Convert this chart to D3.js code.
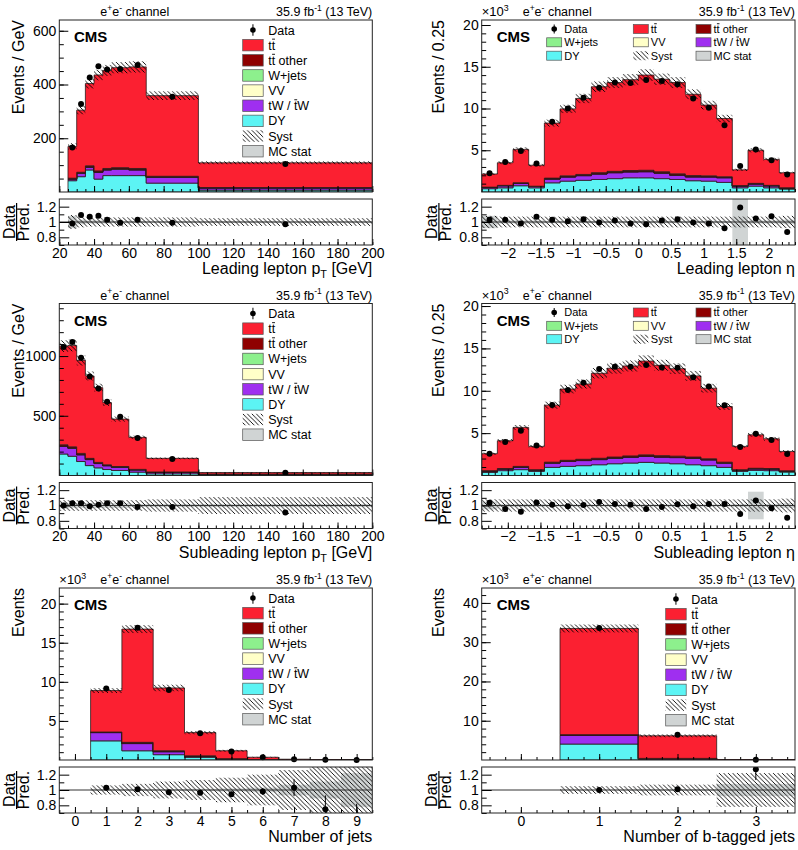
<!DOCTYPE html>
<html><head><meta charset="utf-8">
<script src="https://cdn.jsdelivr.net/npm/d3@7"></script>
<style>
body{margin:0;background:#fff}
svg{display:block}
text{font-family:"Liberation Sans",Arial,Helvetica,sans-serif}
</style>
</head><body>
<svg id="c" width="798" height="850"></svg>
<script>
// ---------------- DATA ----------------
// Leading lepton pT (events / GeV)
const ptLeadEdges   = [25,30,35,40,45,50,60,70,100,200];
const ptLeadDY      = [42,57,82,48,61,61,61,33,7];
const ptLeadTW      = [6,12,10,25,21,24,21,21,8];
const ptLeadVV      = [1,1,1,1,1,1,1,1,0.5];
const ptLeadWJ      = [0.5,0.5,0.5,0.5,0.5,0.5,0.5,0.5,0.2];
const ptLeadTTOther = [2,3,4,4,4,4,4,3,1];
const ptLeadTT      = [118,231,306,357,365,372,378,300,92];
const ptLeadData    = [166,327,426,468,456,458,473,354,104];
const ptLeadRatio   = [0.98,1.09,1.07,1.08,1.03,0.99,1.03,0.99,0.97];
const ptLeadRatioErr= [0.02,0.015,0.012,0.012,0.012,0.01,0.01,0.008,0.01];
const ptLeadSystMain= [0.07,0.05,0.045,0.045,0.045,0.045,0.045,0.045,0.05];
const ptLeadSyst    = [0.09,0.07,0.06,0.06,0.06,0.06,0.06,0.06,0.05];
const ptLeadMCStat  = [0.08,0.03,0.02,0.02,0.02,0.015,0.015,0.01,0.01];
const ptLeadYTicks  = [200,400,600];
const ptXTicks      = [20,40,60,80,100,120,140,160,180,200];

// Leading lepton eta (x10^3 events / 0.25)
const etaEdges      = [-2.4,-2.16,-1.92,-1.68,-1.44,-1.2,-0.96,-0.72,-0.48,-0.24,0,0.24,0.48,0.72,0.96,1.2,1.44,1.68,1.92,2.16,2.4];
const etaLeadDY     = [0.4,0.5,0.75,0.5,1.1,1.3,1.4,1.5,1.6,1.7,1.7,1.6,1.5,1.35,1.3,1.15,0.5,0.7,0.5,0.35];
const etaLeadTW     = [0.15,0.25,0.28,0.15,0.45,0.5,0.55,0.65,0.7,0.7,0.72,0.65,0.5,0.45,0.5,0.55,0.22,0.26,0.24,0.12];
const etaLeadVV     = [0.01,0.01,0.02,0.01,0.03,0.03,0.04,0.04,0.04,0.04,0.04,0.04,0.04,0.04,0.03,0.03,0.01,0.02,0.01,0.01];
const etaLeadWJ     = [0.005,0.005,0.005,0.005,0.005,0.005,0.005,0.005,0.005,0.005,0.005,0.005,0.005,0.005,0.005,0.005,0.005,0.005,0.005,0.005];
const etaLeadTTOther= [0.02,0.03,0.05,0.03,0.08,0.1,0.11,0.12,0.13,0.13,0.14,0.13,0.13,0.12,0.1,0.09,0.03,0.05,0.04,0.02];
const etaLeadTT     = [1.57,2.71,4.0,2.51,6.59,8.02,9.1,10.29,10.63,10.88,11.4,11.08,10.93,9.74,8.47,6.98,1.89,3.97,3.11,1.8];
const etaLeadData   = [2.24,3.6,4.9,3.4,8.4,10.0,11.3,12.5,13.1,13.05,13.4,13.3,12.9,11.2,10.1,8.0,3.1,5.1,3.8,2.1];
const etaLeadRatio  = [1.03,1.03,0.98,1.07,1.03,1.01,1.035,0.995,1.02,0.98,0.97,1.02,1.035,0.995,0.98,0.92,1.19,1.045,1.075,0.87];
const etaLeadRatioErr=[0.02,0.017,0.015,0.018,0.011,0.01,0.01,0.009,0.009,0.009,0.009,0.009,0.009,0.009,0.01,0.011,0.02,0.015,0.017,0.021];
const etaLeadSystMain=[0.05,0.05,0.05,0.05,0.05,0.05,0.05,0.05,0.05,0.05,0.05,0.05,0.05,0.05,0.05,0.05,0.05,0.05,0.05,0.05];
const etaLeadSyst   = [0.08,0.07,0.07,0.07,0.07,0.07,0.07,0.07,0.07,0.07,0.07,0.07,0.07,0.07,0.07,0.07,0.07,0.07,0.07,0.08];
const etaLeadMCStat = [0.08,0.02,0.02,0.02,0.015,0.015,0.015,0.015,0.015,0.015,0.015,0.015,0.015,0.015,0.015,0.015,0.4,0.02,0.02,0.03];
const etaYTicks     = [5,10,15,20];
const etaXTicks     = [-2,-1.5,-1,-0.5,0,0.5,1,1.5,2];

// Subleading lepton pT (events / GeV)
const ptSubEdges    = [20,25,30,35,40,45,50,60,70,100,200];
const ptSubDY       = [180,161,117,83,64,50,42,28,14,5];
const ptSubTW       = [64,66,56,50,36,32,27,19,13,6];
const ptSubVV       = [2,2,2,2,2,1,1,1,0.5,0.2];
const ptSubWJ       = [1,1,1,0.5,0.5,0.5,0.3,0.2,0.1,0];
const ptSubTTOther  = [10,10,9,8,7,6,5,3,2,1];
const ptSubTT       = [826,849,779,690,626,521,397,268,114,13];
const ptSubData     = [1075,1117,986,828,728,617,492,314,139,23];
const ptSubRatio    = [1.0,1.03,1.03,0.99,1.01,1.03,1.03,0.98,0.98,0.91];
const ptSubRatioErr = [0.01,0.01,0.01,0.01,0.01,0.01,0.01,0.01,0.01,0.015];
const ptSubSystMain = [0.045,0.045,0.045,0.045,0.045,0.045,0.045,0.045,0.05,0.08];
const ptSubSyst     = [0.07,0.07,0.07,0.07,0.07,0.07,0.07,0.07,0.08,0.11];
const ptSubMCStat   = [0.04,0.03,0.03,0.03,0.03,0.03,0.03,0.02,0.02,0.02];
const ptSubYTicks   = [500,1000];

// Subleading lepton eta (x10^3 events / 0.25)
const etaSubDY      = [0.37,0.57,0.69,0.49,0.96,1.08,1.16,1.27,1.39,1.47,1.55,1.47,1.39,1.27,1.16,0.96,0.49,0.6,0.57,0.41];
const etaSubTW      = [0.15,0.2,0.3,0.15,0.5,0.58,0.6,0.6,0.62,0.67,0.7,0.7,0.72,0.75,0.68,0.5,0.14,0.18,0.2,0.1];
const etaSubVV      = [0.01,0.01,0.02,0.01,0.03,0.03,0.04,0.04,0.04,0.04,0.04,0.04,0.04,0.04,0.03,0.03,0.01,0.02,0.01,0.01];
const etaSubWJ      = [0.005,0.005,0.005,0.005,0.005,0.005,0.005,0.005,0.005,0.005,0.005,0.005,0.005,0.005,0.005,0.005,0.005,0.005,0.005,0.005];
const etaSubTTOther = [0.03,0.04,0.06,0.03,0.08,0.1,0.11,0.12,0.13,0.13,0.14,0.13,0.13,0.12,0.1,0.08,0.03,0.05,0.04,0.03];
const etaSubTT      = [2.01,3.28,4.6,2.75,6.73,8.41,8.89,10.03,10.47,10.61,11.07,10.66,10.32,9.57,8.33,6.57,2.76,3.95,3.51,2.29];
const etaSubData    = [2.57,3.94,5.27,3.55,8.33,10.1,10.96,12.57,12.84,12.84,13.04,12.76,12.73,11.6,10.5,8.3,3.35,4.92,4.2,2.53];
const etaSubRatio   = [1.035,0.955,0.92,1.04,1.01,0.99,1.005,1.045,1.02,1.01,0.955,0.98,1.015,0.99,1.02,1.02,0.89,1.065,0.965,0.84];
const etaSubRatioErr= [0.02,0.016,0.014,0.017,0.011,0.01,0.01,0.009,0.009,0.009,0.009,0.009,0.009,0.009,0.01,0.011,0.017,0.015,0.016,0.019];
const etaSubSystMain= [0.05,0.05,0.05,0.05,0.05,0.05,0.05,0.05,0.05,0.05,0.05,0.05,0.05,0.05,0.05,0.05,0.05,0.05,0.05,0.05];
const etaSubSyst    = [0.08,0.08,0.08,0.08,0.08,0.08,0.08,0.08,0.08,0.08,0.08,0.08,0.08,0.08,0.08,0.08,0.08,0.08,0.08,0.09];
const etaSubMCStat  = [0.05,0.02,0.02,0.02,0.015,0.015,0.015,0.015,0.015,0.015,0.015,0.015,0.015,0.015,0.015,0.015,0.02,0.18,0.02,0.03];

// Number of jets (x10^3 events)
const nJetsEdges    = [-0.5,0.5,1.5,2.5,3.5,4.5,5.5,6.5,7.5,8.5,9.5];
const nJetsDY       = [0,2.45,1.18,0.68,0.34,0.1,0.03,0.01,0.003,0.001];
const nJetsTW       = [0,1.05,0.92,0.38,0.12,0.04,0.012,0.004,0.001,0];
const nJetsVV       = [0,0.03,0.03,0.02,0.01,0.003,0.001,0,0,0];
const nJetsWJ       = [0,0.01,0.01,0.005,0.002,0.001,0,0,0,0];
const nJetsTTOther  = [0,0.04,0.12,0.1,0.06,0.03,0.01,0.004,0.001,0];
const nJetsTT       = [0,5.3,14.48,8.03,2.97,1.01,0.3,0.082,0.025,0.009];
const nJetsData     = [null,9.13,16.9,8.96,3.42,1.1,0.34,0.1,0.022,0.006];
const nJetsRatio    = [null,1.03,1.01,0.97,0.965,0.945,0.98,1.03,0.75,0.55];
const nJetsRatioErr = [0,0.01,0.008,0.01,0.017,0.03,0.045,0.11,0.18,0.27];
const nJetsSystMain = [0,0.035,0.03,0.045,0.06,0.1,0.15,0.2,0.3,0.35];
const nJetsSyst     = [0,0.06,0.08,0.11,0.13,0.16,0.2,0.26,0.35,0.4];
const nJetsMCStat   = [0,0.01,0.01,0.01,0.015,0.02,0.03,0.07,0.11,0.22];
const nJetsYTicks   = [5,10,15,20];
const nJetsXTicks   = [0,1,2,3,4,5,6,7,8,9];

// Number of b-tagged jets (x10^3 events)
const nBEdges       = [-0.5,0.5,1.5,2.5,3.5];
const nBDY          = [0,4.06,0.05,0];
const nBTW          = [0,2.21,0.25,0.003];
const nBVV          = [0,0.03,0.01,0];
const nBWJ          = [0,0.01,0,0];
const nBTTOther     = [0,0.15,0.1,0.002];
const nBTT          = [0,27.04,5.76,0.045];
const nBData        = [null,33.6,6.4,0.06];
const nBRatio       = [null,1.0,1.01,1.27];
const nBRatioErr    = [0,0.006,0.012,0.14];
const nBSystMain    = [0,0.03,0.06,0.2];
const nBSyst        = [0,0.05,0.07,0.22];
const nBMCStat      = [0,0.005,0.01,0.08];
const nBYTicks      = [10,20,30,40];
const nBXTicks      = [0,1,2,3];

const ratioYTicks   = [0.8,1,1.2];

// ---------------- STYLE ----------------
const COL = {tt:"#fb2031", tto:"#8f0000", wj:"#8df08d", vv:"#ffffc8", tw:"#9f2ff0", dy:"#5cf4f4", mc:"#d0d4d4"};
const COLS = [{x0:59.3,x1:372.3},{x0:481.7,x1:795}];
const ROWS = [0,283.5,568];
function geom(col,row){const o=ROWS[row];return {x0:COLS[col].x0,x1:COLS[col].x1,mainTop:20+o,mainBot:192+o,ratioTop:199+o,ratioBot:245+o,off:o};}

const svg = d3.select("#c");
const defs = svg.append("defs");
const pat = defs.append("pattern").attr("id","hatch").attr("patternUnits","userSpaceOnUse").attr("width",4.5).attr("height",4.5);
pat.append("path").attr("d","M0,0 L4.5,4.5 M-1,3.5 L1,5.5 M3.5,-1 L5.5,1").attr("stroke","#000").attr("stroke-width",0.9);

function styleAxis(g,fs){g.select(".domain").remove();g.attr("font-family",null).attr("font-size",null);g.selectAll("text").attr("font-size",fs).attr("fill","#000");g.selectAll("line").attr("stroke","#000");}

function supText(g,x,y,parts,fs,anchor){
  const t=g.append("text").attr("x",x).attr("y",y).attr("font-size",fs).attr("text-anchor",anchor||"start").attr("fill","#000");
  let shift=0;
  parts.forEach(p=>{
    const s=t.append("tspan").text(p.t);
    const target=p.sup?-fs*0.42:(p.sub?fs*0.28:0);
    const dy=target-shift; shift=target;
    if(dy!==0) s.attr("dy",dy);
    if(p.sup||p.sub) s.attr("font-size",fs*0.68);
  });
  return t;
}

function drawPanel(P){
  const G=geom(P.col,P.row);
  const x=d3.scaleLinear().domain(P.xDomain).range([G.x0,G.x1]);
  const y=d3.scaleLinear().domain([0,P.yMax]).range([G.mainBot,G.mainTop]);
  const yr=d3.scaleLinear().domain([0.7,1.3]).range([G.ratioBot,G.ratioTop]);
  const nb=P.edges.length-1;
  const layers=[[P.dy,COL.dy],[P.tw,COL.tw],[P.vv,COL.vv],[P.wj,COL.wj],[P.tto,COL.tto],[P.tt,COL.tt]];
  let base=d3.range(nb).map(()=>0);
  const stacked=layers.map(([arr,c])=>{const lo=base;const hi=base.map((b,i)=>b+arr[i]);base=hi;return {lo,hi,c};});
  const total=base;
  const bins=d3.range(nb).filter(i=>total[i]>0);

  // main pad
  const cm="cm"+P.id;
  defs.append("clipPath").attr("id",cm).append("rect").attr("x",G.x0).attr("y",G.mainTop).attr("width",G.x1-G.x0).attr("height",G.mainBot-G.mainTop);
  const gm=svg.append("g").attr("clip-path",`url(#${cm})`);
  const area=d3.area().curve(d3.curveStepAfter).x(d=>x(d.e)).y0(d=>y(d.lo)).y1(d=>y(d.hi));
  const first=bins[0], last=bins[bins.length-1];
  stacked.forEach(s=>{
    const pts=[];
    for(let i=first;i<=last+1;i++){const k=Math.min(i,last);pts.push({e:P.edges[i],lo:s.lo[k],hi:s.hi[k]});}
    gm.append("path").attr("d",area(pts)).attr("fill",s.c).attr("stroke","#2a1a1a").attr("stroke-width",0.8);
  });
  gm.selectAll(null).data(bins).join("rect")
    .attr("x",i=>x(P.edges[i])).attr("width",i=>x(P.edges[i+1])-x(P.edges[i]))
    .attr("y",i=>y(total[i]*(1+P.systMain[i]))).attr("height",i=>y(total[i]*(1-P.systMain[i]))-y(total[i]*(1+P.systMain[i])))
    .attr("fill","url(#hatch)");
  const dbins=d3.range(nb).filter(i=>P.data[i]!=null);
  svg.append("g").selectAll(null).data(dbins).join("circle")
    .attr("cx",i=>x((P.edges[i]+P.edges[i+1])/2)).attr("cy",i=>y(P.data[i])).attr("r",3).attr("fill","#000");

  // main axes
  const gy=svg.append("g").attr("transform",`translate(${G.x0},0)`);
  gy.call(d3.axisLeft(y).tickValues(P.yMinor).tickSize(-4.5).tickFormat(""));styleAxis(gy,14);
  const gy2=svg.append("g").attr("transform",`translate(${G.x0},0)`);
  gy2.call(d3.axisLeft(y).tickValues(P.yTicks).tickSize(-9).tickPadding(3).tickFormat(d3.format("d")));styleAxis(gy2,14);
  const gx=svg.append("g").attr("transform",`translate(0,${G.mainBot})`);
  gx.call(d3.axisBottom(x).tickValues(P.xMinor).tickSize(-3).tickFormat(""));styleAxis(gx,14);
  const gx2=svg.append("g").attr("transform",`translate(0,${G.mainBot})`);
  gx2.call(d3.axisBottom(x).tickValues(P.xTicks).tickSize(-6).tickFormat(""));styleAxis(gx2,14);
  svg.append("rect").attr("x",G.x0).attr("y",G.mainTop).attr("width",G.x1-G.x0).attr("height",G.mainBot-G.mainTop).attr("fill","none").attr("stroke","#222").attr("stroke-width",1);

  // ratio pad
  const cr="cr"+P.id;
  defs.append("clipPath").attr("id",cr).append("rect").attr("x",G.x0).attr("y",G.ratioTop).attr("width",G.x1-G.x0).attr("height",G.ratioBot-G.ratioTop);
  const gr=svg.append("g").attr("clip-path",`url(#${cr})`);
  gr.selectAll(null).data(bins).join("rect")
    .attr("x",i=>x(P.edges[i])).attr("width",i=>x(P.edges[i+1])-x(P.edges[i]))
    .attr("y",i=>yr(1+P.mcstat[i])).attr("height",i=>yr(1-P.mcstat[i])-yr(1+P.mcstat[i])).attr("fill",COL.mc);
  gr.selectAll(null).data(bins).join("rect")
    .attr("x",i=>x(P.edges[i])).attr("width",i=>x(P.edges[i+1])-x(P.edges[i]))
    .attr("y",i=>yr(1+P.syst[i])).attr("height",i=>yr(1-P.syst[i])-yr(1+P.syst[i])).attr("fill","url(#hatch)");
  gr.append("line").attr("x1",G.x0).attr("x2",G.x1).attr("y1",yr(1)).attr("y2",yr(1)).attr("stroke","#333").attr("stroke-width",1);
  const rbins=d3.range(nb).filter(i=>P.ratio[i]!=null);
  gr.selectAll(null).data(rbins).join("line")
    .attr("x1",i=>x((P.edges[i]+P.edges[i+1])/2)).attr("x2",i=>x((P.edges[i]+P.edges[i+1])/2))
    .attr("y1",i=>yr(P.ratio[i]-P.ratioErr[i])).attr("y2",i=>yr(P.ratio[i]+P.ratioErr[i])).attr("stroke","#000").attr("stroke-width",1);
  gr.selectAll(null).data(rbins).join("circle")
    .attr("cx",i=>x((P.edges[i]+P.edges[i+1])/2)).attr("cy",i=>yr(P.ratio[i])).attr("r",3).attr("fill","#000");

  const ry=svg.append("g").attr("transform",`translate(${G.x0},0)`);
  ry.call(d3.axisLeft(yr).tickValues([0.7,0.9,1.1]).tickSize(-5).tickFormat(""));styleAxis(ry,14);
  const ry2=svg.append("g").attr("transform",`translate(${G.x0},0)`);
  ry2.call(d3.axisLeft(yr).tickValues(ratioYTicks).tickSize(-10).tickPadding(3).tickFormat(d=>String(d)));styleAxis(ry2,14);
  const rx=svg.append("g").attr("transform",`translate(0,${G.ratioBot})`);
  rx.call(d3.axisBottom(x).tickValues(P.xMinor).tickSize(-3).tickFormat(""));styleAxis(rx,14);
  const rx2=svg.append("g").attr("transform",`translate(0,${G.ratioBot})`);
  rx2.call(d3.axisBottom(x).tickValues(P.xTicks).tickSize(-6).tickPadding(3).tickFormat(d3.format("")));styleAxis(rx2,14);
  svg.append("rect").attr("x",G.x0).attr("y",G.ratioTop).attr("width",G.x1-G.x0).attr("height",G.ratioBot-G.ratioTop).attr("fill","none").attr("stroke","#222").attr("stroke-width",1);

  // titles
  const tx=G.x0-(P.col===0?35.3:37.7);
  svg.append("text").attr("transform",`translate(${tx},${G.mainTop}) rotate(-90)`).attr("text-anchor","end").attr("font-size",16).text(P.yTitle);
  const rc=(G.ratioTop+G.ratioBot)/2;
  const rbx=G.x0-(P.col===0?44.3:44.4);
  svg.append("text").attr("transform",`translate(${rbx},${rc}) rotate(-90)`).attr("text-anchor","middle").attr("font-size",16).text("Data");
  svg.append("line").attr("x1",rbx+1.6).attr("x2",rbx+1.6).attr("y1",rc-19).attr("y2",rc+19).attr("stroke","#000").attr("stroke-width",1.2);
  svg.append("text").attr("transform",`translate(${rbx+13.5},${rc}) rotate(-90)`).attr("text-anchor","middle").attr("font-size",16).text("Pred.");
  supText(svg,G.x1,G.ratioBot+29,P.xTitle,16,"end");

  // header
  const hy=G.mainTop-4;
  if(P.exp) supText(svg,G.x0,hy,[{t:"×10"},{t:"3",sup:true}],13);
  supText(svg,G.x0+41,hy,[{t:"e"},{t:"+",sup:true},{t:"e"},{t:"-",sup:true},{t:" channel"}],12.5);
  supText(svg,G.x1,hy,[{t:"35.9 fb"},{t:"-1",sup:true},{t:" (13 TeV)"}],12.5,"end");
  svg.append("text").attr("x",G.x0+(P.col===0?14.7:15)).attr("y",G.mainTop+22).attr("font-size",15).attr("font-weight","bold").text("CMS");

  drawLegend(P,G);
}

const ENTRIES=[
  {k:"data",label:"Data"},
  {k:"tt",label:"tt",bars:[1]},
  {k:"tto",label:"tt other",bars:[1]},
  {k:"wj",label:"W+jets"},
  {k:"vv",label:"VV"},
  {k:"tw",label:"tW / tW",bars:[5]},
  {k:"dy",label:"DY"},
  {k:"syst",label:"Syst"},
  {k:"mc",label:"MC stat"}
];

function entry(g,e,bx,cy,bw,bh,tx,fs){
  if(e.k==="data"){
    g.append("line").attr("x1",bx+bw/2).attr("x2",bx+bw/2).attr("y1",cy-bh*0.5).attr("y2",cy+bh*0.5).attr("stroke","#000").attr("stroke-width",1);
    g.append("circle").attr("cx",bx+bw/2).attr("cy",cy).attr("r",2.8).attr("fill","#000");
  } else if(e.k==="syst"){
    g.append("rect").attr("x",bx).attr("y",cy-bh/2).attr("width",bw).attr("height",bh).attr("fill","#fff");
    g.append("rect").attr("x",bx).attr("y",cy-bh/2).attr("width",bw).attr("height",bh).attr("fill","url(#hatch)");
  } else {
    g.append("rect").attr("x",bx).attr("y",cy-bh/2).attr("width",bw).attr("height",bh).attr("fill",COL[e.k]).attr("stroke","#555").attr("stroke-width",0.7);
  }
  const by=cy+fs*0.36;
  const t=g.append("text").attr("x",tx).attr("y",by).attr("font-size",fs).text(e.label);
  (e.bars||[]).forEach(ci=>{
    const ext=t.node().getExtentOfChar(ci);
    g.append("line").attr("x1",ext.x+ext.width*0.12).attr("x2",ext.x+ext.width*0.95).attr("y1",by-fs*0.84).attr("y2",by-fs*0.84).attr("stroke","#000").attr("stroke-width",0.9);
  });
}

function drawLegend(P,G){
  const g=svg.append("g");
  if(P.legend==="col"){
    const bx=P.col===0?242.7:665.7, bw=20.5, bh=11.5, fs=12.5;
    const y0=G.off+(P.col===0?30:31);
    ENTRIES.forEach((e,i)=>entry(g,e,bx,y0+i*15.15,bw,bh,bx+bw+5,fs));
  } else {
    const cx=[546.7,633.3,696], rows=[29,42.3,55.7], bw=15, bh=9, fs=11;
    ENTRIES.forEach((e,i)=>{const r=Math.floor(i/3),c=i%3;entry(g,e,cx[c],G.off+rows[r],bw,bh,cx[c]+bw+2.5,fs);});
  }
}

const PANELS=[
  {id:"A",col:0,row:0,edges:ptLeadEdges,dy:ptLeadDY,tw:ptLeadTW,vv:ptLeadVV,wj:ptLeadWJ,tto:ptLeadTTOther,tt:ptLeadTT,
   data:ptLeadData,ratio:ptLeadRatio,ratioErr:ptLeadRatioErr,systMain:ptLeadSystMain,syst:ptLeadSyst,mcstat:ptLeadMCStat,
   xDomain:[20,200],yMax:640,yTicks:ptLeadYTicks,yMinor:d3.range(50,640,50),xTicks:ptXTicks,xMinor:d3.range(20,201,5),
   yTitle:"Events / GeV",xTitle:[{t:"Leading lepton p"},{t:"T",sub:true},{t:" [GeV]"}],exp:false,legend:"col"},
  {id:"B",col:1,row:0,edges:etaEdges,dy:etaLeadDY,tw:etaLeadTW,vv:etaLeadVV,wj:etaLeadWJ,tto:etaLeadTTOther,tt:etaLeadTT,
   data:etaLeadData,ratio:etaLeadRatio,ratioErr:etaLeadRatioErr,systMain:etaLeadSystMain,syst:etaLeadSyst,mcstat:etaLeadMCStat,
   xDomain:[-2.4,2.4],yMax:20.6,yTicks:etaYTicks,yMinor:d3.range(1,21,1),xTicks:etaXTicks,xMinor:d3.range(-24,25).map(v=>v/10),
   yTitle:"Events / 0.25",xTitle:[{t:"Leading lepton η"}],exp:true,legend:"grid"},
  {id:"C",col:0,row:1,edges:ptSubEdges,dy:ptSubDY,tw:ptSubTW,vv:ptSubVV,wj:ptSubWJ,tto:ptSubTTOther,tt:ptSubTT,
   data:ptSubData,ratio:ptSubRatio,ratioErr:ptSubRatioErr,systMain:ptSubSystMain,syst:ptSubSyst,mcstat:ptSubMCStat,
   xDomain:[20,200],yMax:1440,yTicks:ptSubYTicks,yMinor:d3.range(100,1440,100),xTicks:ptXTicks,xMinor:d3.range(20,201,5),
   yTitle:"Events / GeV",xTitle:[{t:"Subleading lepton p"},{t:"T",sub:true},{t:" [GeV]"}],exp:false,legend:"col"},
  {id:"D",col:1,row:1,edges:etaEdges,dy:etaSubDY,tw:etaSubTW,vv:etaSubVV,wj:etaSubWJ,tto:etaSubTTOther,tt:etaSubTT,
   data:etaSubData,ratio:etaSubRatio,ratioErr:etaSubRatioErr,systMain:etaSubSystMain,syst:etaSubSyst,mcstat:etaSubMCStat,
   xDomain:[-2.4,2.4],yMax:20.3,yTicks:etaYTicks,yMinor:d3.range(1,21,1),xTicks:etaXTicks,xMinor:d3.range(-24,25).map(v=>v/10),
   yTitle:"Events / 0.25",xTitle:[{t:"Subleading lepton η"}],exp:true,legend:"grid"},
  {id:"E",col:0,row:2,edges:nJetsEdges,dy:nJetsDY,tw:nJetsTW,vv:nJetsVV,wj:nJetsWJ,tto:nJetsTTOther,tt:nJetsTT,
   data:nJetsData,ratio:nJetsRatio,ratioErr:nJetsRatioErr,systMain:nJetsSystMain,syst:nJetsSyst,mcstat:nJetsMCStat,
   xDomain:[-0.5,9.5],yMax:22,yTicks:nJetsYTicks,yMinor:d3.range(1,22,1),xTicks:nJetsXTicks,xMinor:d3.range(-1,20).map(v=>v/2),
   yTitle:"Events",xTitle:[{t:"Number of jets"}],exp:true,legend:"col"},
  {id:"F",col:1,row:2,edges:nBEdges,dy:nBDY,tw:nBTW,vv:nBVV,wj:nBWJ,tto:nBTTOther,tt:nBTT,
   data:nBData,ratio:nBRatio,ratioErr:nBRatioErr,systMain:nBSystMain,syst:nBSyst,mcstat:nBMCStat,
   xDomain:[-0.5,3.5],yMax:43.8,yTicks:nBYTicks,yMinor:d3.range(2,44,2),xTicks:nBXTicks,xMinor:d3.range(-2,18).map(v=>v/5),
   yTitle:"Events",xTitle:[{t:"Number of b-tagged jets"}],exp:true,legend:"col"}
];
PANELS.forEach(drawPanel);
</script>
</body></html>
